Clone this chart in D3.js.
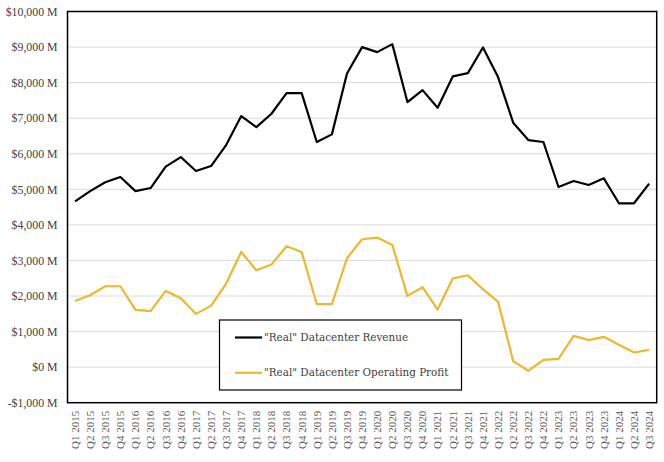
<!DOCTYPE html>
<html><head><meta charset="utf-8">
<script src="https://cdn.jsdelivr.net/npm/d3@7"></script>
<style>html,body{margin:0;padding:0;background:#fff;}svg{display:block;}</style>
</head><body>
<svg id="chart" width="664" height="462"></svg>
<script>
const quarters = ["Q1 2015","Q2 2015","Q3 2015","Q4 2015","Q1 2016","Q2 2016","Q3 2016","Q4 2016","Q1 2017","Q2 2017","Q3 2017","Q4 2017","Q1 2018","Q2 2018","Q3 2018","Q4 2018","Q1 2019","Q2 2019","Q3 2019","Q4 2019","Q1 2020","Q2 2020","Q3 2020","Q4 2020","Q1 2021","Q2 2021","Q3 2021","Q4 2021","Q1 2022","Q2 2022","Q3 2022","Q4 2022","Q1 2023","Q2 2023","Q3 2023","Q4 2023","Q1 2024","Q2 2024","Q3 2024"];
const revenue = [4660,4950,5200,5345,4950,5036,5637,5907,5514,5655,6245,7060,6750,7125,7706,7706,6330,6545,8258,8998,8857,9082,7453,7790,7294,8174,8268,8989,8155,6873,6385,6330,5065,5233,5121,5309,4607,4607,5160];
const profit = [1862,2022,2275,2275,1610,1573,2144,1938,1498,1723,2350,3240,2725,2884,3399,3240,1770,1770,3062,3596,3642,3436,2003,2247,1620,2491,2584,2191,1835,169,-103,206,234,880,758,852,627,412,487];
const yTicks = [-1000,0,1000,2000,3000,4000,5000,6000,7000,8000,9000,10000];
const seriesNames = ['"Real" Datacenter Revenue','"Real" Datacenter Operating Profit'];
const seriesColors = ["#000000","#EBB92D"];

const svg = d3.select("#chart");
const m = {left:67.5, top:11.5, right:664-656.7, bottom:462-402.7};
const W = 664, H = 462;
const x = d3.scaleBand().domain(quarters).range([m.left, W - m.right]);
const y = d3.scaleLinear().domain([-1000,10000]).range([H - m.bottom, m.top]);
const font = "'Liberation Serif', 'Times New Roman', serif";
const font2 = "'DejaVu Serif', serif";

// gridlines
svg.append("g").selectAll("line").data(yTicks.filter(d=>d>-1000 && d<10000)).join("line")
  .attr("x1", m.left).attr("x2", W - m.right)
  .attr("y1", d=>y(d)).attr("y2", d=>y(d))
  .attr("stroke","#d9d9d9").attr("stroke-width",1);

// y axis labels
const yAxis = d3.axisLeft(y).tickValues(yTicks).tickSize(0).tickPadding(10)
  .tickFormat(d => (d<0?"-$":"$") + d3.format(",")(Math.abs(d)) + " M");
const gy = svg.append("g").attr("transform",`translate(${m.left},0)`).call(yAxis);
gy.select(".domain").remove();
gy.selectAll("text").attr("font-family",font).attr("font-size","11.8px").attr("fill","#404040");

// x axis labels
const xAxis = d3.axisBottom(x).tickSize(0).tickPadding(0);
const gx = svg.append("g").attr("transform",`translate(0,${H - m.bottom})`).call(xAxis);
gx.select(".domain").remove();
gx.selectAll("text").attr("font-family",font).attr("font-size","11px").attr("fill","#595959")
  .attr("text-anchor","end").attr("dy","0.35em")
  .attr("transform","translate(0,8) rotate(-90)").attr("x",0).attr("y",0);

// lines
const line = d3.line().x((d,i)=>x(quarters[i]) + x.bandwidth()/2).y(d=>y(d));
[revenue, profit].forEach((s,i)=>{
  svg.append("path").datum(s).attr("d",line).attr("fill","none")
    .attr("stroke",seriesColors[i]).attr("stroke-width",2.2).attr("stroke-linejoin","round");
});

// plot border
svg.append("rect").attr("x",m.left).attr("y",m.top)
  .attr("width",W - m.right - m.left).attr("height",H - m.bottom - m.top)
  .attr("fill","none").attr("stroke","#000").attr("stroke-width",1.5);

// legend
const lg = svg.append("g");
lg.append("rect").attr("x",219.5).attr("y",320).attr("width",242).attr("height",70)
  .attr("fill","#fff").attr("stroke","#000").attr("stroke-width",1.2);
seriesNames.forEach((n,i)=>{
  const ly = 337.5 + i*35.3;
  lg.append("line").attr("x1",235).attr("x2",262).attr("y1",ly).attr("y2",ly)
    .attr("stroke",seriesColors[i]).attr("stroke-width",2.2);
  lg.append("text").attr("x",264).attr("y",ly).attr("dy","0.35em")
    .attr("font-family",font2).attr("font-size","10.4px").attr("fill","#404040").text(n);
});
</script>
</body></html>
